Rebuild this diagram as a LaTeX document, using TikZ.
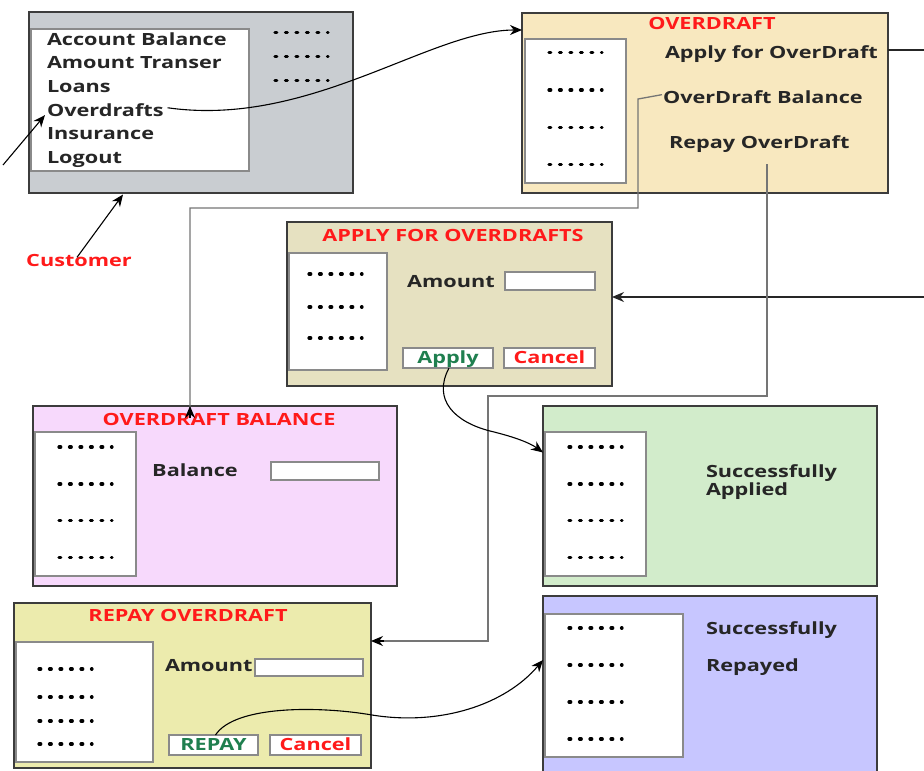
\documentclass[tikz,border=0pt]{standalone}
\usepackage{fontspec}
\setmainfont{Open Sans}[FakeStretch=1.29]
\usetikzlibrary{arrows.meta}

\definecolor{frame}{HTML}{3C3C3C}
\definecolor{innerframe}{HTML}{8A8A8A}
\definecolor{menugray}{HTML}{C9CDD1}
\definecolor{odfill}{HTML}{F8E8BF}
\definecolor{applyfill}{HTML}{E6E1C1}
\definecolor{balfill}{HTML}{F7D9FC}
\definecolor{succfill}{HTML}{D2ECCB}
\definecolor{repayfill}{HTML}{ECEBAD}
\definecolor{repdfill}{HTML}{C7C6FF}
\definecolor{titlered}{HTML}{FF1A1A}
\definecolor{btngreen}{HTML}{1F7F4F}
\definecolor{wire}{HTML}{757575}
\definecolor{ink}{HTML}{262626}

\newcommand\uifont{\fontsize{16.8}{20}\selectfont\bfseries}

\begin{document}
\begin{tikzpicture}[x=1pt,y=-1pt,
  panel/.style={draw=frame,line width=1.6pt,inner sep=0,outer sep=0,anchor=north west},
  sidebar/.style={draw=innerframe,fill=white,line width=1.3pt,inner sep=0,outer sep=0,anchor=north west},
  field/.style={draw=innerframe,fill=white,line width=1.3pt,inner sep=0,outer sep=0,anchor=north west},
  button/.style={draw=innerframe,fill=white,line width=1.3pt,inner sep=0,outer sep=0,
    anchor=north west,font=\uifont,text height=12pt,text depth=2pt},
  lbl/.style={inner sep=0,outer sep=0,font=\uifont,text=ink},
  title/.style={inner sep=0,outer sep=0,font=\uifont,text=titlered,anchor=base},
  dotrow/.style={draw=black,line width=3.2pt,line cap=round,dash pattern=on 1.8pt off 8.7pt},
  arr/.style={-{Stealth[length=12pt,width=10pt]}},
  thin/.style={line width=1.1pt,black},
  greywire/.style={draw=wire,line width=1.6pt},
]
\clip (0,0) rectangle (924,771);
\fill[white] (0,0) rectangle (924,771);

% ---------- main menu ----------
\node[panel,fill=menugray,minimum width=324pt,minimum height=181pt] (menu) at (29,12) {};
\node[sidebar,minimum width=218pt,minimum height=142pt] (menulist) at (31,29) {};
\node[lbl,anchor=base west] (accbal) at (47,45)    {Account Balance};
\node[lbl,anchor=base west] (amttr)  at (47,68.7)  {Amount Transer};
\node[lbl,anchor=base west] (loans)  at (47,92.4)  {Loans};
\node[lbl,anchor=base west] (ovd)    at (47,116.1) {Overdrafts};
\node[lbl,anchor=base west] (ins)    at (47,139.8) {Insurance};
\node[lbl,anchor=base west] (logout) at (47,163.5) {Logout};
\foreach \y in {32.3,56.5,80.3} \draw[dotrow] (275,\y) -- (328,\y);

\node[inner sep=0,font=\uifont,text=titlered,anchor=base] (cust) at (79,266.7) {Customer};

% ---------- overdraft screen ----------
\node[panel,fill=odfill,minimum width=366pt,minimum height=180pt] (odbox) at (522,13) {};
\node[sidebar,minimum width=101pt,minimum height=144pt] (odside) at (525,39) {};
\node[title] (odtitle) at (712,29.3) {OVERDRAFT};
\node[lbl,anchor=base west] (odapply) at (665,58.3)  {Apply for OverDraft};
\node[lbl,anchor=base west] (odbal)   at (663,103)   {OverDraft Balance};
\node[lbl,anchor=base west] (odrep)   at (669,148.3) {Repay OverDraft};
\foreach \y in {52.7,90,127.3,164.3} \draw[dotrow] (549,\y) -- (602,\y);

% ---------- apply for overdrafts ----------
\node[panel,fill=applyfill,minimum width=325pt,minimum height=164pt] (apbox) at (287,222) {};
\node[sidebar,minimum width=98pt,minimum height=117pt] (apside) at (289,253) {};
\node[title] (aptitle) at (453,241.7) {APPLY FOR OVERDRAFTS};
\node[lbl,anchor=base] (apamt) at (451,287.3) {Amount};
\node[field,minimum width=90pt,minimum height=18pt] (apfield) at (505,272) {};
\node[button,minimum width=90pt,minimum height=20pt,text=btngreen] (apbtn) at (403,348) {Apply};
\node[button,minimum width=91pt,minimum height=20pt,text=titlered] (apcancel) at (504,348) {Cancel};
\foreach \y in {274,307,338} \draw[dotrow] (309,\y) -- (362,\y);

% ---------- overdraft balance ----------
\node[panel,fill=balfill,minimum width=364pt,minimum height=180pt] (balbox) at (33,406) {};
\node[sidebar,minimum width=101pt,minimum height=144pt] (balside) at (35,432) {};
\node[title] (baltitle) at (219,425.7) {OVERDRAFT BALANCE};
\node[lbl,anchor=base] (ballbl) at (195,476) {Balance};
\node[field,minimum width=108pt,minimum height=18pt] (balfield) at (271,462) {};
\foreach \y in {447,484,520.7,557.7} \draw[dotrow] (59,\y) -- (112,\y);

% ---------- successfully applied ----------
\node[panel,fill=succfill,minimum width=334pt,minimum height=180pt] (succbox) at (543,406) {};
\node[sidebar,minimum width=101pt,minimum height=144pt] (succside) at (545,432) {};
\node[lbl,anchor=base west] (succ1) at (706,477.3) {Successfully};
\node[lbl,anchor=base west] (succ2) at (706,495.5) {Applied};
\foreach \y in {447,484,520.7,557.7} \draw[dotrow] (569,\y) -- (622,\y);

% ---------- repay overdraft ----------
\node[panel,fill=repayfill,minimum width=357pt,minimum height=165pt] (repbox) at (14,603) {};
\node[sidebar,minimum width=137pt,minimum height=120pt] (repside) at (16,642) {};
\node[title] (reptitle) at (188,621.7) {REPAY OVERDRAFT};
\node[lbl,anchor=base west] (repamt) at (165,671) {Amount};
\node[field,minimum width=108pt,minimum height=17pt] (repfield) at (255,659) {};
\node[button,minimum width=89pt,minimum height=20pt,text=btngreen] (repbtn) at (169,735) {REPAY};
\node[button,minimum width=91pt,minimum height=20pt,text=titlered] (repcancel) at (270,735) {Cancel};
\foreach \y in {669,697,721,744} \draw[dotrow] (39,\y) -- (92,\y);

% ---------- successfully repayed ----------
\node[panel,fill=repdfill,minimum width=334pt,minimum height=200pt] (rpdbox) at (543,596) {};
\node[sidebar,minimum width=138pt,minimum height=143pt] (rpdside) at (545,614) {};
\node[lbl,anchor=base west] (rpd1) at (706,634.3) {Successfully};
\node[lbl,anchor=base west] (rpd2) at (706,671.7) {Repayed};
\foreach \y in {628,665,702,739} \draw[dotrow] (569,\y) -- (622,\y);

% ---------- connectors ----------
\coordinate (custtip) at (123,194.5);
\coordinate (leftin) at (3,165);
\coordinate (odin) at (522,30);
\coordinate (r1) at (940,50);
\coordinate (r2) at (940,297);
\coordinate (b1) at (638,99);
\coordinate (b2) at (638,208);
\coordinate (b3) at (190,208);
\coordinate (p1) at (767,164);
\coordinate (p2) at (767,396);
\coordinate (p3) at (488,396);
\coordinate (p4) at (488,641);
\coordinate (succin) at (543,452.5);
\coordinate (rpdin) at (543,660);

% customer into the menu screen
\draw[thin,arr] ([xshift=-2pt,yshift=-3pt]cust.north) -- (custtip);
\draw[thin,arr] (leftin) -- ([xshift=-2pt,yshift=1pt]ovd.base west);

% Overdrafts menu item opens the overdraft screen
\draw[thin,arr] ([xshift=4pt,yshift=2pt]ovd.east) .. controls (310,128) and (430,30) .. (odin);

% Apply for OverDraft leads to the apply screen
\draw[line width=1.2pt,draw=ink,arr] (odbox.east |- r1) -- (r1) -- (r2) -- (apbox.east |- r2);

% OverDraft Balance leads to the balance screen
\draw[greywire,line width=1.3pt] ([xshift=-1pt,yshift=2pt]odbal.west) -- (b1) -- (b2) -- (b3) -- ([yshift=-11pt]balbox.north -| b3);
\draw[thin,arr] ([yshift=-12pt]balbox.north -| b3) -- (balbox.north -| b3);

% Repay OverDraft leads to the repay screen
\draw[greywire,line width=2.2pt] (p1) -- (p2) -- (p3) -- (p4) -- ([xshift=12pt]repbox.east |- p4);
\draw[thin,arr] ([xshift=13pt]repbox.east |- p4) -- (repbox.east |- p4);

% Apply button leads to the confirmation
\draw[thin,arr] ([xshift=1pt]apbtn.south) .. controls (432,400) and (455,422) .. (490,431)
  .. controls (515,437) and (530,443) .. (succin);

% REPAY button leads to the confirmation
\draw[thin,arr] ([xshift=2pt]repbtn.north) .. controls (235,705) and (320,706) .. (372,715)
  .. controls (440,726) and (505,705) .. (rpdin);
\end{tikzpicture}
\end{document}
